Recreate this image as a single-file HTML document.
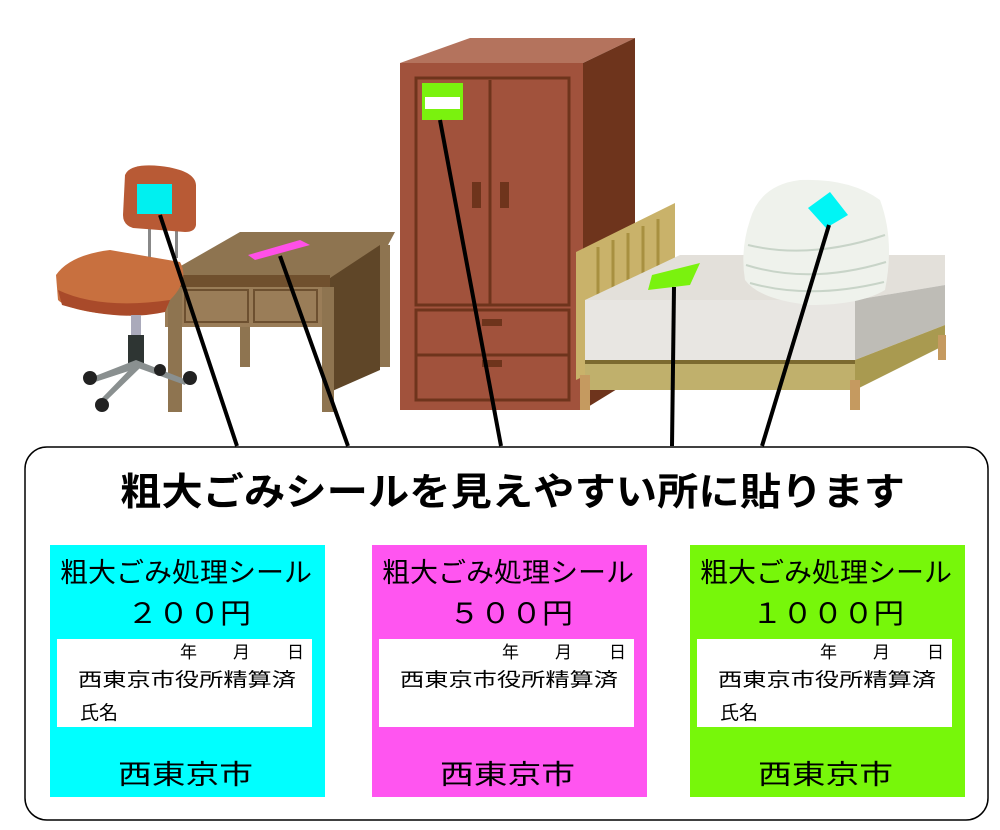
<!DOCTYPE html>
<html><head><meta charset="utf-8"><style>
html,body{margin:0;padding:0;background:#fff;}
svg{display:block;font-family:"Liberation Sans","Noto Sans CJK JP",sans-serif;}
</style></head><body>
<svg width="1000" height="830" viewBox="0 0 1000 830" xmlns="http://www.w3.org/2000/svg">
<!-- Wardrobe -->
<polygon points="400,63 470,38 635,38 583,63" fill="#b4735d"/>
<polygon points="583,63 635,38 635,378 583,410" fill="#6e341c"/>
<rect x="400" y="63" width="183" height="347" fill="#a1523c"/>
<rect x="416" y="78" width="153" height="227" fill="none" stroke="#6e341c" stroke-width="3"/>
<line x1="490" y1="80" x2="490" y2="305" stroke="#6e341c" stroke-width="3"/>
<rect x="416" y="310" width="153" height="45" fill="none" stroke="#6e341c" stroke-width="3"/>
<rect x="416" y="355" width="153" height="45" fill="none" stroke="#6e341c" stroke-width="3"/>
<rect x="472" y="182" width="9" height="26" fill="#6e341c"/>
<rect x="500" y="182" width="9" height="26" fill="#6e341c"/>
<rect x="482" y="319" width="20" height="7" fill="#6e341c"/>
<rect x="482" y="360" width="20" height="7" fill="#6e341c"/>
<rect x="422" y="83" width="41" height="37" fill="#7af20e"/>
<rect x="425" y="97" width="35" height="12" fill="#fff"/>
<!-- Bed -->
<polygon points="576,252 675,203 675,333 576,380" fill="#c9b26a"/>
<g stroke="#a89040" stroke-width="3"><line x1="598" y1="247" x2="598" y2="300"/><line x1="613" y1="240" x2="613" y2="293"/><line x1="628" y1="233" x2="628" y2="286"/><line x1="643" y1="226" x2="643" y2="279"/><line x1="658" y1="219" x2="658" y2="272"/></g>
<polygon points="585,300 680,255 945,255 945,285 855,300" fill="#e3e0da"/>
<polygon points="585,300 855,300 855,360 585,360" fill="#e8e6e2"/>
<polygon points="855,300 945,285 945,325 855,360" fill="#bebcb6"/>
<polygon points="585,360 855,360 855,390 585,390" fill="#c0b06c"/>
<polygon points="855,360 945,325 945,345 855,390" fill="#a99a50"/>
<rect x="585" y="360" width="270" height="4" fill="#7c6a30"/>
<rect x="580" y="375" width="10" height="35" fill="#c59a60"/>
<rect x="850" y="380" width="10" height="30" fill="#c59a60"/>
<rect x="938" y="335" width="8" height="25" fill="#c59a60"/>
<polygon points="652,275 700,263 690,285 648,290" fill="#7af20e"/>
<!-- Futon -->
<path d="M750,220 Q760,185 800,180 Q850,178 880,200 Q895,240 885,290 Q860,305 810,305 Q760,300 745,280 Q740,250 750,220Z" fill="#eff2ec"/>
<g stroke="#c8d4c8" stroke-width="2" fill="none"><path d="M748,245 Q810,260 885,235"/><path d="M746,265 Q810,285 886,262"/><path d="M750,283 Q810,300 884,282"/></g>
<polygon points="808,208 830,192 848,215 826,228" fill="#00f5f5"/>
<!-- Desk -->
<polygon points="165,275 240,232 395,232 380,260 330,278" fill="#8e7450"/>
<polygon points="330,278 380,245 380,370 330,392" fill="#5f4628"/>
<rect x="165" y="275" width="165" height="12" fill="#70502e"/>
<rect x="165" y="287" width="165" height="40" fill="#9a7d58"/>
<rect x="185" y="290" width="63" height="32" fill="none" stroke="#6d5030" stroke-width="2"/>
<rect x="254" y="290" width="63" height="32" fill="none" stroke="#6d5030" stroke-width="2"/>
<rect x="168" y="287" width="14" height="125" fill="#8e7450"/>
<rect x="322" y="287" width="12" height="125" fill="#8e7450"/>
<rect x="240" y="327" width="10" height="40" fill="#8e7450"/>
<rect x="380" y="245" width="10" height="122" fill="#8e7450"/>
<polygon points="248,255 300,240 310,245 255,260" fill="#ff50e8"/>
<!-- Chair -->
<rect x="148" y="228" width="3" height="30" fill="#888"/>
<rect x="175" y="228" width="3" height="30" fill="#888"/>
<path d="M125,175 Q130,163 160,166 Q195,170 196,185 L196,225 Q195,232 185,232 L133,228 Q123,225 123,215Z" fill="#b85a35"/>
<rect x="137" y="184" width="35" height="30" fill="#00f0f0"/>
<path d="M56,275 Q70,255 110,250 L180,262 Q190,280 170,300 L120,315 Q70,312 58,300Z" fill="#c8703f"/>
<path d="M58,290 Q100,310 170,300 L165,312 Q120,322 62,305Z" fill="#a94a2a"/>
<rect x="131" y="315" width="10" height="25" fill="#aab"/>
<rect x="128" y="335" width="16" height="30" fill="#2e3533"/>
<polygon points="136,360 90,378 92,383 138,368 185,385 187,380" fill="#8a9090"/>
<polygon points="134,365 100,400 105,402 140,368" fill="#8a9090"/>
<g fill="#222"><circle cx="90" cy="378" r="7"/><circle cx="102" cy="405" r="7"/><circle cx="190" cy="378" r="7"/><circle cx="160" cy="370" r="6"/></g>
<!-- Pointer lines -->
<g stroke="#000" stroke-width="4" fill="none">
<line x1="160" y1="215" x2="237" y2="446"/>
<line x1="280" y1="256" x2="348" y2="446"/>
<line x1="440" y1="120" x2="501" y2="446"/>
<line x1="674" y1="287" x2="672" y2="446"/>
<line x1="829" y1="225" x2="762" y2="446"/>
</g>
<!-- Box -->
<rect x="25" y="447" width="963" height="373" rx="22" fill="#fff" stroke="#000" stroke-width="1.5"/>
<text x="120" y="505" font-size="38" font-weight="bold" textLength="785" lengthAdjust="spacingAndGlyphs">粗大ごみシールを見えやすい所に貼ります</text>
<!-- Stickers -->
<g id="s1">
<rect x="50" y="545" width="275" height="252" fill="#00ffff"/>
<rect x="57" y="639" width="255" height="88" fill="#fff"/>
<text x="60" y="582" font-size="27" textLength="252" lengthAdjust="spacingAndGlyphs">粗大ごみ処理シール</text>
<text x="127" y="623" font-size="28" textLength="124" lengthAdjust="spacingAndGlyphs">２００円</text>
<text x="180" y="658" font-size="17">年</text><text x="233" y="658" font-size="17">月</text><text x="287" y="658" font-size="17">日</text>
<text x="78" y="686" font-size="19" textLength="218" lengthAdjust="spacingAndGlyphs">西東京市役所精算済</text>
<text x="80" y="719" font-size="19">氏名</text>
<text x="118" y="784" font-size="27" textLength="135" lengthAdjust="spacingAndGlyphs">西東京市</text>
</g>
<g>
<rect x="372" y="545" width="275" height="252" fill="#ff55f0"/>
<rect x="379" y="639" width="255" height="88" fill="#fff"/>
<text x="382" y="582" font-size="27" textLength="252" lengthAdjust="spacingAndGlyphs">粗大ごみ処理シール</text>
<text x="449" y="623" font-size="28" textLength="124" lengthAdjust="spacingAndGlyphs">５００円</text>
<text x="502" y="658" font-size="17">年</text><text x="555" y="658" font-size="17">月</text><text x="609" y="658" font-size="17">日</text>
<text x="400" y="686" font-size="19" textLength="218" lengthAdjust="spacingAndGlyphs">西東京市役所精算済</text>
<text x="440" y="784" font-size="27" textLength="135" lengthAdjust="spacingAndGlyphs">西東京市</text>
</g>
<g>
<rect x="690" y="545" width="275" height="252" fill="#77f70a"/>
<rect x="697" y="639" width="255" height="88" fill="#fff"/>
<text x="700" y="582" font-size="27" textLength="252" lengthAdjust="spacingAndGlyphs">粗大ごみ処理シール</text>
<text x="752" y="623" font-size="28" textLength="152" lengthAdjust="spacingAndGlyphs">１０００円</text>
<text x="820" y="658" font-size="17">年</text><text x="873" y="658" font-size="17">月</text><text x="927" y="658" font-size="17">日</text>
<text x="718" y="686" font-size="19" textLength="218" lengthAdjust="spacingAndGlyphs">西東京市役所精算済</text>
<text x="720" y="719" font-size="19">氏名</text>
<text x="758" y="784" font-size="27" textLength="135" lengthAdjust="spacingAndGlyphs">西東京市</text>
</g>
</svg>
</body></html>
